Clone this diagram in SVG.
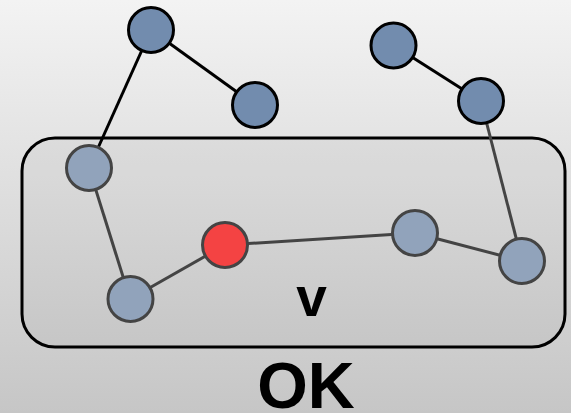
<svg xmlns="http://www.w3.org/2000/svg" width="571" height="413" viewBox="0 0 571 413">
  <defs>
    <linearGradient id="bg" x1="0" y1="0" x2="0" y2="1">
      <stop offset="0" stop-color="#f3f3f3"/>
      <stop offset="1" stop-color="#c6c6c6"/>
    </linearGradient>
    <style>
      .outer { fill: #728cae; stroke: #000; stroke-width: 3; }
      .inner { fill: #91a3bb; stroke: #444; stroke-width: 3; }
      .mark { fill: #f44343; stroke: #444; stroke-width: 3; }
      .e-out { stroke: #000; stroke-width: 3; fill: none; }
      .e-in { stroke: #444; stroke-width: 3; fill: none; }
      .lbl { font-family: "Liberation Sans", Arial, sans-serif; font-weight: bold; fill: #000; text-anchor: middle; }
    </style>
  </defs>

  <rect width="571" height="413" fill="url(#bg)"/>

  <!-- region boundary -->
  <rect id="region" x="22" y="138" width="543" height="209" rx="33" ry="33" fill="#000" fill-opacity="0.03" stroke="#000" stroke-width="3"/>

  <g id="connectors">
    <line class="e-out" x1="151" y1="30" x2="255" y2="105"/>
    <line class="e-out" x1="151" y1="30" x2="89" y2="168"/>
    <line class="e-out" x1="393" y1="45" x2="481" y2="101"/>
    <line class="e-in" x1="481" y1="101" x2="522" y2="261"/>
    <line class="e-in" x1="89" y1="168" x2="130" y2="299"/>
    <line class="e-in" x1="130" y1="299" x2="225" y2="245"/>
    <line class="e-in" x1="225" y1="245" x2="415" y2="233"/>
    <line class="e-in" x1="415" y1="233" x2="522" y2="261"/>
  </g>

  <g id="n1"><circle class="outer" cx="151" cy="30" r="22.5"/></g>
  <g id="n2"><circle class="outer" cx="255" cy="105" r="22.5"/></g>
  <g id="n3"><circle class="outer" cx="393.5" cy="45.5" r="22.5"/></g>
  <g id="n4"><circle class="outer" cx="481" cy="101" r="22.5"/></g>
  <g id="n5"><circle class="inner" cx="89" cy="168" r="22.5"/></g>
  <g id="n6"><circle class="inner" cx="130.5" cy="299" r="22.5"/></g>
  <g id="v"><circle class="mark" cx="225" cy="245" r="22.5"/></g>
  <g id="n7"><circle class="inner" cx="415" cy="233" r="22.5"/></g>
  <g id="n8"><circle class="inner" cx="522" cy="261" r="22.5"/></g>

  <text class="lbl" x="311.5" y="316" font-size="55">v</text>
  <text class="lbl" x="306" y="408" font-size="65">OK</text>
</svg>
